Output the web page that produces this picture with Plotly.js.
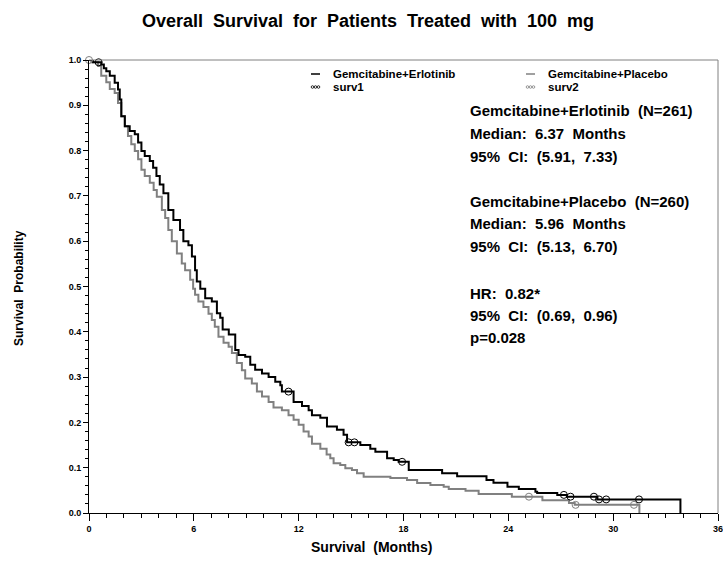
<!DOCTYPE html>
<html>
<head>
<meta charset="utf-8">
<script src="https://cdn.plot.ly/plotly-3.0.1.min.js"></script>
<style>html,body{margin:0;padding:0;background:#fff;}#chart{width:723px;height:566px;}</style>
</head>
<body>
<div id="chart"></div>
<script>
// Gemcitabine + Erlotinib (step times in months, survival after each step)
const erlTime = [0, 0.23, 0.70, 0.85, 0.99, 1.19, 1.47, 1.66, 1.76, 1.85, 2.05, 2.33, 2.62, 2.81, 3.0, 3.19, 3.48, 3.67, 3.86, 4.05, 4.26, 4.54, 4.83, 5.21, 5.40, 5.69, 5.89, 6.07, 6.17, 6.37, 6.65, 7.03, 7.32, 7.51, 7.65, 8.0, 8.37, 8.56, 8.94, 9.23, 9.51, 9.90, 10.28, 10.66, 10.95, 11.04, 11.71, 12.19, 12.57, 12.76, 13.24, 13.62, 14.19, 14.57, 14.77, 15.53, 16.1, 16.39, 17.06, 17.44, 17.72, 18.3, 20.21, 21.07, 22.75, 23.15, 23.95, 24.6, 25.55, 25.65, 26.8, 27.35, 29.1, 33.85];
const erlSurv = [1.0, 0.995, 0.99, 0.982, 0.975, 0.965, 0.95, 0.935, 0.913, 0.876, 0.854, 0.843, 0.836, 0.818, 0.799, 0.788, 0.777, 0.762, 0.744, 0.725, 0.706, 0.669, 0.647, 0.625, 0.60, 0.591, 0.566, 0.536, 0.511, 0.495, 0.474, 0.467, 0.441, 0.431, 0.405, 0.394, 0.36, 0.349, 0.345, 0.327, 0.316, 0.308, 0.30, 0.29, 0.282, 0.268, 0.245, 0.236, 0.227, 0.216, 0.21, 0.191, 0.184, 0.173, 0.156, 0.15, 0.142, 0.135, 0.121, 0.117, 0.113, 0.095, 0.088, 0.081, 0.073, 0.067, 0.058, 0.053, 0.047, 0.044, 0.040, 0.036, 0.030, 0];
const erlCensor = [0.55, 11.42, 14.86, 15.19, 17.92, 27.18, 27.56, 28.9, 29.19, 29.6, 31.48];

// Gemcitabine + Placebo
const plaTime = [0, 0.13, 0.52, 0.70, 0.99, 1.19, 1.47, 1.66, 1.85, 2.05, 2.23, 2.42, 2.62, 2.81, 3.0, 3.19, 3.48, 3.7, 3.88, 4.17, 4.36, 4.54, 4.74, 5.03, 5.31, 5.50, 5.79, 5.96, 6.07, 6.26, 6.55, 6.84, 7.03, 7.2, 7.41, 7.7, 7.99, 8.18, 8.46, 8.75, 8.94, 9.32, 9.61, 9.90, 10.28, 10.56, 11.04, 11.42, 11.71, 12.0, 12.28, 12.57, 12.76, 13.24, 13.6, 13.81, 14.0, 14.38, 14.67, 15.05, 15.34, 15.72, 17.25, 18.2, 18.78, 19.54, 20.3, 20.59, 21.55, 22.3, 24.2, 25.95, 27.47, 27.8, 31.5];
const plaSurv = [1.0, 0.995, 0.987, 0.965, 0.951, 0.936, 0.927, 0.905, 0.876, 0.854, 0.832, 0.814, 0.799, 0.781, 0.758, 0.744, 0.729, 0.713, 0.698, 0.669, 0.651, 0.625, 0.60, 0.573, 0.551, 0.536, 0.515, 0.495, 0.482, 0.467, 0.455, 0.44, 0.426, 0.411, 0.389, 0.376, 0.367, 0.353, 0.331, 0.315, 0.297, 0.286, 0.268, 0.257, 0.245, 0.233, 0.227, 0.216, 0.206, 0.195, 0.18, 0.169, 0.153, 0.142, 0.129, 0.121, 0.11, 0.106, 0.099, 0.095, 0.088, 0.08, 0.077, 0.073, 0.066, 0.062, 0.058, 0.053, 0.049, 0.042, 0.036, 0.028, 0.022, 0.018, 0];
const plaCensor = [0, 25.18, 27.85, 31.19];

const xTicks = [0, 6, 12, 18, 24, 30, 36];
const yTicks = [0.0, 0.1, 0.2, 0.3, 0.4, 0.5, 0.6, 0.7, 0.8, 0.9, 1.0];

const titleText = 'Overall  Survival  for  Patients  Treated  with  100  mg';
const xTitleText = 'Survival  (Months)';
const yTitleText = 'Survival  Probability';
const legendNames = ['Gemcitabine+Erlotinib', 'surv1', 'Gemcitabine+Placebo', 'surv2'];
const statLines = [
  'Gemcitabine+Erlotinib  (N=261)',
  'Median:  6.37  Months',
  '95%  CI:  (5.91,  7.33)',
  'Gemcitabine+Placebo  (N=260)',
  'Median:  5.96  Months',
  '95%  CI:  (5.13,  6.70)',
  'HR:  0.82*',
  '95%  CI:  (0.69,  0.96)',
  'p=0.028'
];

const BLACK = '#000000', GRAY = '#808080';
const nb = s => s.replace(/ /g, '\u00A0');
function stepAt(times, surv, t) {
  let s = surv[0];
  for (let i = 0; i < times.length; i++) { if (times[i] <= t) s = surv[i]; }
  return s;
}

const traces = [
  {x: plaTime, y: plaSurv, mode: 'lines', line: {shape: 'hv', color: GRAY, width: 2}, hoverinfo: 'skip', showlegend: false},
  {x: erlTime, y: erlSurv, mode: 'lines', line: {shape: 'hv', color: BLACK, width: 2}, hoverinfo: 'skip', showlegend: false},
  {x: plaCensor, y: plaCensor.map(t => stepAt(plaTime, plaSurv, t)), mode: 'markers',
   marker: {symbol: 'circle-open', size: 7, color: GRAY, line: {width: 1, color: GRAY}}, cliponaxis: false, showlegend: false},
  {x: erlCensor, y: erlCensor.map(t => stepAt(erlTime, erlSurv, t)), mode: 'markers',
   marker: {symbol: 'circle-open', size: 7, color: BLACK, line: {width: 1, color: BLACK}}, cliponaxis: false, showlegend: false}
];

// pixel helpers for layout positions (plot area: x 89..718, y 60..513)
const W = 723, H = 566, L = 89, R = 718, T = 60, B = 513;
const PX = p => (p - L) / (R - L);
const PY = p => (B - p) / (B - T);

const FONT = 'Liberation Sans, Arial, sans-serif';
const annotations = [];
const shapes = [
  {type: 'line', xref: 'paper', yref: 'paper', x0: 0, x1: 1, y0: 1, y1: 1, line: {color: GRAY, width: 1}},
  {type: 'line', xref: 'paper', yref: 'paper', x0: 1, x1: 1, y0: 0, y1: 1, line: {color: GRAY, width: 1}}
];

// legend
const legRows = [74, 87];
const legCols = [{sx: 311, tx: 331}, {sx: 526, tx: 546}];
const legColors = [BLACK, GRAY];
[0, 1].forEach(c => {
  const col = legCols[c];
  shapes.push({type: 'line', xref: 'paper', yref: 'paper', x0: PX(col.sx), x1: PX(col.sx + 9), y0: PY(legRows[0]), y1: PY(legRows[0]), line: {color: legColors[c], width: 1.5}});
  [0, 1, 2].forEach(k => {
    const cx = col.sx + 1.5 + k * 3;
    shapes.push({type: 'circle', xref: 'paper', yref: 'paper', x0: PX(cx - 1.3), x1: PX(cx + 1.3), y0: PY(legRows[1] + 1.3), y1: PY(legRows[1] - 1.3), line: {color: legColors[c], width: 0.8}});
  });
  annotations.push({xref: 'paper', yref: 'paper', x: PX(col.tx), y: PY(legRows[0]), xanchor: 'left', yanchor: 'middle', showarrow: false, text: legendNames[c * 2], font: {family: FONT, size: 11.5, color: BLACK, weight: 'bold'}});
  annotations.push({xref: 'paper', yref: 'paper', x: PX(col.tx), y: PY(legRows[1]), xanchor: 'left', yanchor: 'middle', showarrow: false, text: legendNames[c * 2 + 1], font: {family: FONT, size: 11.5, color: BLACK, weight: 'bold'}});
});

// statistics text
const statY = [110, 133, 156.5, 201, 223.5, 246.5, 293, 315, 337];
statLines.forEach((s, i) => {
  annotations.push({xref: 'paper', yref: 'paper', x: PX(468), y: PY(statY[i]), xanchor: 'left', yanchor: 'middle', showarrow: false, text: nb(s), font: {family: FONT, size: 15, color: BLACK, weight: 'bold'}});
});

// axis titles (centered on the page like the reference)
annotations.push({xref: 'paper', yref: 'paper', x: PX(371), y: PY(547), xanchor: 'center', yanchor: 'middle', showarrow: false, text: nb(xTitleText), font: {family: FONT, size: 14, color: BLACK, weight: 'bold'}});
annotations.push({xref: 'paper', yref: 'paper', x: PX(19), y: PY(288), xanchor: 'center', yanchor: 'middle', showarrow: false, textangle: -90, text: nb(yTitleText), font: {family: FONT, size: 12, color: BLACK, weight: 'bold'}});

const layout = {
  width: W, height: H,
  margin: {l: L, r: W - R, t: T, b: H - B, pad: 0},
  paper_bgcolor: '#ffffff', plot_bgcolor: '#ffffff',
  showlegend: false,
  title: {text: nb(titleText), x: 368 / W, xref: 'container', xanchor: 'center', y: 1 - 21 / H, yref: 'container', yanchor: 'middle', font: {family: FONT, size: 18, color: BLACK, weight: 'bold'}},
  xaxis: {
    range: [0, 36], tickvals: xTicks, ticktext: xTicks.map(String), ticks: 'outside', ticklen: 7, tickwidth: 1, tickcolor: BLACK,
    minor: {dtick: 1, tick0: 0, ticks: 'outside', ticklen: 4, tickwidth: 1, tickcolor: BLACK, showgrid: false},
    showline: true, linecolor: BLACK, linewidth: 1, showgrid: false, zeroline: false, fixedrange: true,
    ticklabeloverflow: 'allow', automargin: false,
    tickfont: {family: FONT, size: 9, color: BLACK, weight: 'bold'}
  },
  yaxis: {
    range: [0, 1], tickvals: yTicks, ticktext: yTicks.map(v => v.toFixed(1)), ticks: 'outside', ticklen: 5, tickwidth: 1, tickcolor: BLACK,
    minor: {dtick: 0.02, tick0: 0, ticks: 'outside', ticklen: 3, tickwidth: 1, tickcolor: BLACK, showgrid: false},
    showline: true, linecolor: BLACK, linewidth: 1, showgrid: false, zeroline: false, fixedrange: true, automargin: false,
    tickfont: {family: FONT, size: 9, color: BLACK, weight: 'bold'}
  },
  shapes: shapes,
  annotations: annotations
};

Plotly.newPlot('chart', traces, layout, {displayModeBar: false, staticPlot: true});
</script>
</body>
</html>
